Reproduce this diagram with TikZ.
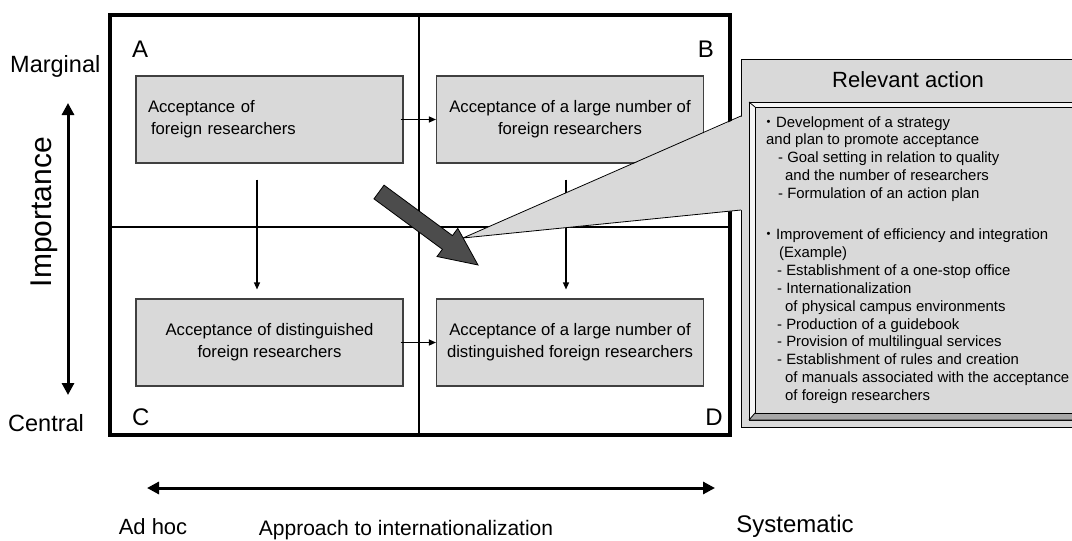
\documentclass[tikz,border=0pt]{standalone}
\usepackage{fontspec}
\setmainfont{Liberation Sans}
\newfontfamily\cjkfont{Noto Sans CJK JP}
\usetikzlibrary{arrows.meta}

\begin{document}
\begin{tikzpicture}[x=1pt, y=-1pt, >={Triangle[length=7pt,width=6pt]},
  accbox/.style={draw=black!75, line width=1.1pt, fill=black!15, minimum width=267pt,
    minimum height=87pt, inner sep=0pt, font=\fontsize{16.7}{22}\selectfont, align=center},
  quadlbl/.style={font=\fontsize{24}{26}\selectfont, inner sep=0pt},
  sidelbl/.style={font=\fontsize{23.5}{26}\selectfont, inner sep=0pt},
  bigarrow/.style={{Triangle[length=12pt,width=12pt]}-{Triangle[length=12pt,width=12pt]}, line width=3pt}]
  \useasboundingbox (0,0) rectangle (1072,541);

  % Quadrants
  \draw[line width=1.5pt] (419,15) -- (419,435) (110,227) -- (730,227);
  \draw[line width=3.5pt] (110,15) rectangle (730,435);

  \node[quadlbl, anchor=base west] (qA) at (132,57) {A};
  \node[quadlbl, anchor=base east] (qB) at (714,57) {B};
  \node[quadlbl, anchor=base west] (qC) at (132,425) {C};
  \node[quadlbl, anchor=base east] (qD) at (723,425) {D};

  % Kinds of acceptance
  \node[accbox, text width=243pt, align=left] (boxA) at (269.5,119.5)
    {Acceptance of\\\hspace*{3pt}foreign researchers};
  \node[accbox] (boxB) at (570,119.5) {Acceptance of a large number of\\foreign researchers};
  \node[accbox] (boxC) at (269.5,342.5) {Acceptance of distinguished\\foreign researchers};
  \node[accbox] (boxD) at (570,342.5) {Acceptance of a large number of\\distinguished foreign researchers};

  \draw[->, line width=1.3pt] ([xshift=-3pt]boxA.east) -- (boxB.west);
  \draw[->, line width=1.3pt] ([xshift=-3pt]boxC.east) -- (boxD.west);
  \draw[->, line width=1.3pt] ([xshift=-12.5pt,yshift=-16pt]boxA.south) -- ([xshift=-12.5pt,yshift=9pt]boxC.north);
  \draw[->, line width=1.3pt] ([xshift=-4pt,yshift=-16pt]boxB.south) -- ([xshift=-4pt,yshift=9pt]boxD.north);

  % Relevant action panel
  \draw[fill=black!15, line width=0.8pt] (741,59) rectangle (1090,427);
  \draw[fill=black!4, line width=0.8pt] (749,102) rectangle (1090,420);
  \fill[black!35] (749,420) -- (755,413) -- (1090,413) -- (1090,420) -- cycle;
  \draw[fill=black!15, line width=0.8pt] (755,107) rectangle (1090,413);
  \draw[line width=0.8pt] (749,102) -- (755,107) (749,420) -- (755,413) (749,420) -- (1090,420);
  \node[font=\fontsize{22}{24}\selectfont] (title) at (908,80) {Relevant action};
  \node[anchor=north west, inner sep=0pt, align=left, font=\fontsize{14.9}{17.9}\selectfont] (acts) at (761,116)
    {{\cjkfont ・}Development of a strategy\\
     \hspace*{5pt}and plan to promote acceptance\\
     \hspace*{17pt}- Goal setting in relation to quality\\
     \hspace*{24pt}and the number of researchers\\
     \hspace*{17pt}- Formulation of an action plan\\[23pt]
     {\cjkfont ・}Improvement of efficiency and integration\\
     \hspace*{18pt}(Example)\\
     \hspace*{16pt}- Establishment of a one-stop office\\
     \hspace*{16pt}- Internationalization\\
     \hspace*{24pt}of physical campus environments\\
     \hspace*{16pt}- Production of a guidebook\\
     \hspace*{16pt}- Provision of multilingual services\\
     \hspace*{16pt}- Establishment of rules and creation\\
     \hspace*{24pt}of manuals associated with the acceptance\\
     \hspace*{24pt}of foreign researchers};

  % Callout
  \coordinate (tip) at (463,238);
  \fill[black!15] (743,116) -- (tip) -- (743,210) -- cycle;
  \draw[line width=0.8pt] (741,116) -- (tip) -- (741,210);

  % Direction of progress
  \begin{scope}[shift={(379,192)}, rotate=-36.4]
    \draw[fill=black!70, line width=0.8pt] (0,-8.5) -- (85,-8.5) -- (85,-17.5) -- (123,0)
      -- (85,17.5) -- (85,8.5) -- (0,8.5) -- cycle;
  \end{scope}

  % Importance axis
  \node[sidelbl, anchor=base west] (marg) at (10,72) {Marginal};
  \node[sidelbl, anchor=base west] (cent) at (8,431) {Central};
  \node[font=\fontsize{30}{32}\selectfont, rotate=90] (imp) at (44,212) {Importance};
  \coordinate (vtop) at (68,103);
  \coordinate (vbot) at (68,395);
  \draw[bigarrow] (vtop) -- (vbot);

  % Approach axis
  \coordinate (hleft) at (147,488);
  \coordinate (hright) at (715,488);
  \draw[bigarrow] (hleft) -- (hright);
  \node[font=\fontsize{22}{24}\selectfont] (adhoc) at (153,527) {Ad hoc};
  \node[font=\fontsize{21}{24}\selectfont] (appr) at (406,530) {Approach to internationalization};
  \node[font=\fontsize{24}{26}\selectfont] (syst) at (795,526) {Systematic};
\end{tikzpicture}
\end{document}
